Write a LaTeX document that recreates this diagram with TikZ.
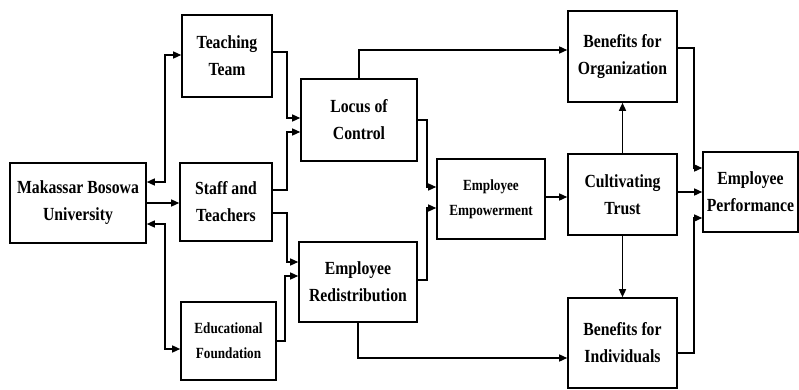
\documentclass[tikz,border=0pt]{standalone}
\usepackage{fontspec}
\setmainfont{Liberation Serif}[FakeStretch=0.85]
\usepackage{tikz}
\usetikzlibrary{positioning,shapes,arrows.meta}

\begin{document}
\begin{tikzpicture}[x=1pt,y=-1pt]
\tikzstyle{every node}+=[inner sep=0pt]
\tikzstyle{box}=[draw=black, line width=1.6pt, rectangle, align=center, font=\fontsize{18.5}{27}\selectfont\bfseries]
\tikzstyle{boxsmall}=[box, font=\fontsize{15.5}{25}\selectfont\bfseries]
\tikzstyle{link}=[black, line width=1.4pt, -{Triangle[length=8pt,width=7pt]}]
\tikzstyle{twoway}=[link, {Triangle[length=8pt,width=7pt]}-{Triangle[length=8pt,width=7pt]}]
\useasboundingbox (0,0) rectangle (799,390);
\node [box, minimum width=136, minimum height=80] (mbu) at (78,203) {Makassar Bosowa\\University};
\node [box, minimum width=90, minimum height=82] (tt) at (227,56) {Teaching\\Team};
\node [box, minimum width=92, minimum height=78] (st) at (226,202) {Staff and\\Teachers};
\node [boxsmall, minimum width=95, minimum height=78] (ef) at (228.5,341) {Educational\\Foundation};
\node [box, minimum width=116, minimum height=82] (loc) at (359,120) {Locus of\\Control};
\node [box, minimum width=118, minimum height=80] (red) at (358,282) {Employee\\Redistribution};
\node [boxsmall, minimum width=108, minimum height=80] (emp) at (491,199) {Employee\\Empowerment};
\node [box, minimum width=109, minimum height=91] (bo) at (622.5,56.5) {Benefits for\\Organization};
\node [box, minimum width=109, minimum height=81] (ct) at (622.5,194.5) {Cultivating\\Trust};
\node [box, minimum width=109, minimum height=90] (bi) at (622.5,343) {Benefits for\\Individuals};
\node [box, minimum width=95, minimum height=80] (ep) at (750.5,192) {Employee\\Performance};
\draw [twoway] (mbu.east |- 0,182) -| (165,55) -- (tt.west |- 0,55);
\draw [link] (mbu.east |- 0,203) -- (st.west |- 0,203);
\draw [twoway] (mbu.east |- 0,224) -| (165,349) -- (ef.west |- 0,349);
\draw [link] (tt.east |- 0,52) -| (287,118) -- (loc.west |- 0,118);
\draw [link] (st.east |- 0,190) -| (287,132) -- (loc.west |- 0,132);
\draw [link] (st.east |- 0,213) -| (287,262) -- (red.west |- 0,262);
\draw [link] (ef.east |- 0,341) -| (285,276) -- (red.west |- 0,276);
\draw [link] (loc.east |- 0,120) -| (427,187) -- (emp.west |- 0,187);
\draw [link] (red.east |- 0,280) -| (427,208) -- (emp.west |- 0,208);
\draw [link] (loc.north) |- (bo.west |- 0,50);
\draw [link] (red.south) |- (bi.west |- 0,358);
\draw [link] (emp.east |- 0,197) -- (ct.west |- 0,197);
\draw [link] (ct.north) -- (bo.south);
\draw [link] (ct.south) -- (bi.north);
\draw [link] (ct.east |- 0,192) -- (ep.west |- 0,192);
\draw [link] (bo.east |- 0,48) -| (694,168) -- (ep.west |- 0,168);
\draw [link] (bi.east |- 0,353) -| (694,218) -- (ep.west |- 0,218);
\end{tikzpicture}
\end{document}
